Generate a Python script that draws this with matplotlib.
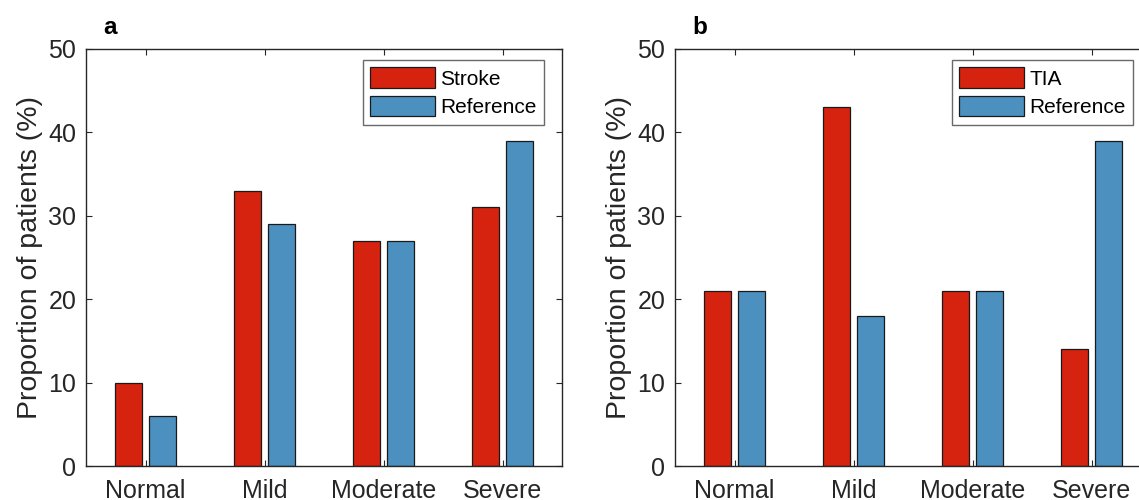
import matplotlib.pyplot as plt
import numpy as np

plt.rcParams.update({
    'font.family': ['Liberation Sans', 'DejaVu Sans'],
    'axes.edgecolor': '#262626',
    'axes.linewidth': 1.0,
    'xtick.color': '#262626',
    'ytick.color': '#262626',
    'xtick.labelcolor': '#262626',
    'ytick.labelcolor': '#262626',
    'xtick.direction': 'in',
    'ytick.direction': 'in',
    'xtick.top': True,
    'ytick.right': True,
    'xtick.major.size': 4,
    'ytick.major.size': 4,
})

categories = ['Normal', 'Mild', 'Moderate', 'Severe']
stroke = [10, 33, 27, 31]
reference_a = [6, 29, 27, 39]
tia = [21, 43, 21, 14]
reference_b = [21, 18, 21, 39]

red = '#D5230F'
blue = '#4B90BF'

fig = plt.figure(figsize=(11.39, 5), dpi=100)
W, H = 1139, 500
ax_a = fig.add_axes([86 / W, 34 / H, 476 / W, 417 / H])
ax_b = fig.add_axes([675 / W, 34 / H, 476 / W, 417 / H])

panels = [
    (ax_a, stroke, reference_a, 'Stroke', 'a'),
    (ax_b, tia, reference_b, 'TIA', 'b'),
]

x = np.arange(1, len(categories) + 1)
w = 0.23
off = 0.145

for ax, grp, ref, name, letter in panels:
    ax.bar(x - off, grp, w, color=red, edgecolor='#1a1a1a', linewidth=0.9, label=name)
    ax.bar(x + off, ref, w, color=blue, edgecolor='#1a1a1a', linewidth=0.9, label='Reference')
    ax.set_xlim(0.5, 4.5)
    ax.set_ylim(0, 50)
    ax.set_xticks(x)
    ax.set_xticklabels(categories, fontsize=18)
    ax.set_yticks(np.arange(0, 51, 10))
    ax.tick_params(axis='y', labelsize=18, pad=7)
    ax.tick_params(axis='x', pad=9)
    ax.set_ylabel('Proportion of patients (%)', fontsize=20.5, color='#262626', labelpad=4)
    ax.text(0.036, 1.035, letter, transform=ax.transAxes, fontsize=17.5,
            fontweight='bold', va='baseline', ha='left')
    leg = ax.legend(loc='upper right', bbox_to_anchor=(0.962, 0.974), borderaxespad=0,
                    fontsize=15, fancybox=False, handlelength=3.1, handleheight=1.15,
                    handletextpad=0.25, labelspacing=0.35, borderpad=0.35)
    leg.get_frame().set_edgecolor('#444444')
    leg.get_frame().set_linewidth(1.0)

fig.savefig('out.png', dpi=100)
